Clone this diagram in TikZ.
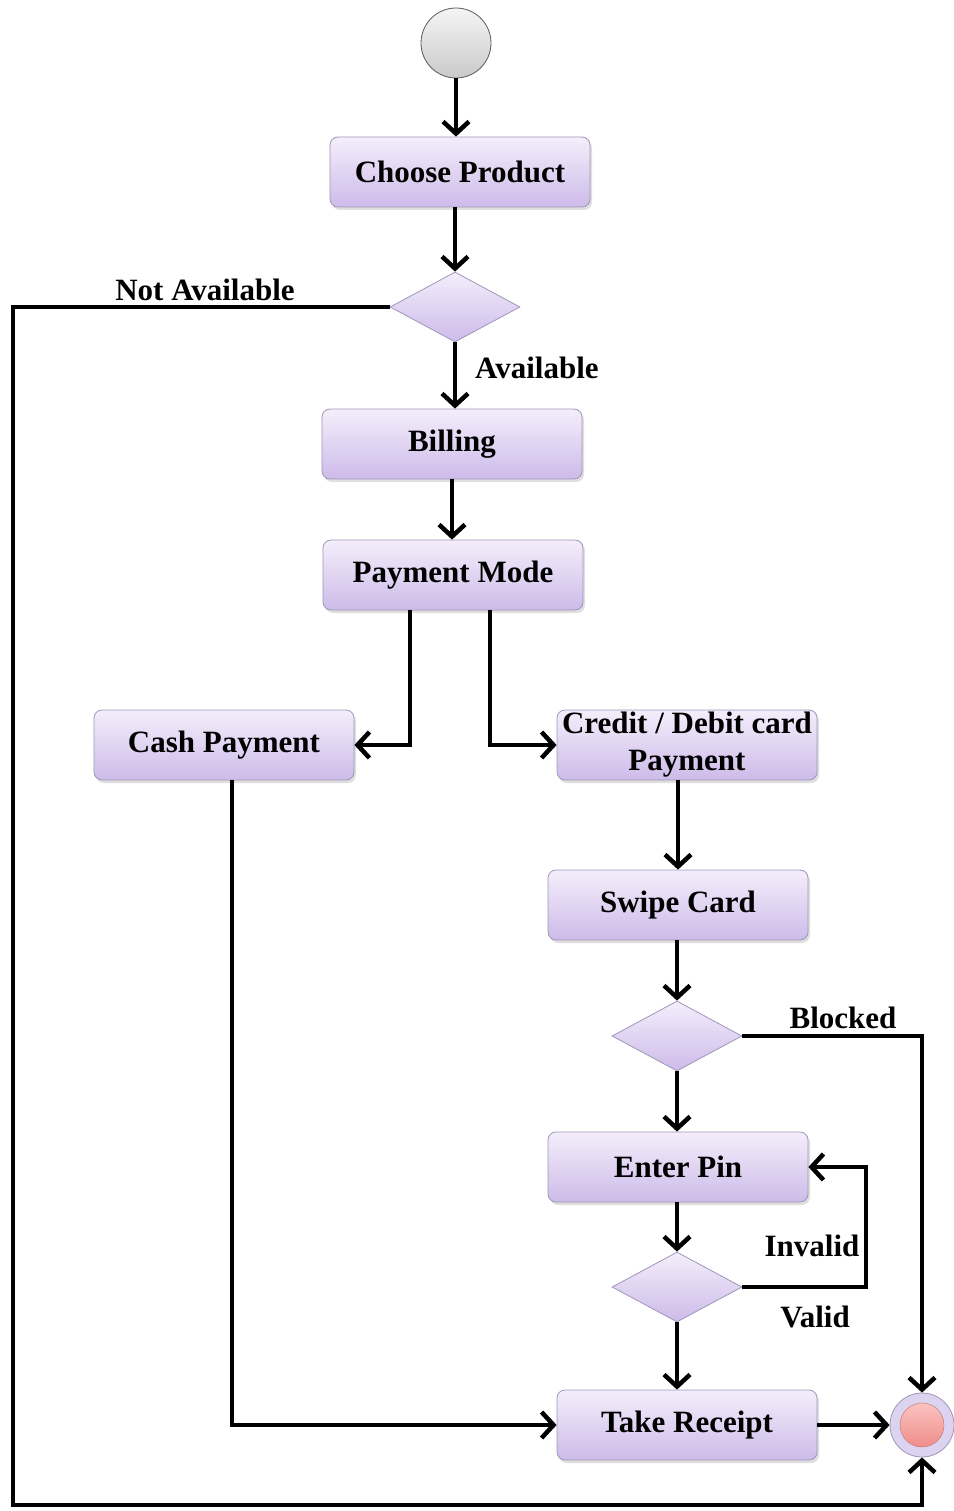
\documentclass[tikz,border=0pt]{standalone}
\usepackage{fontspec}
\setmainfont{Liberation Serif}
\usetikzlibrary{arrows.meta,shapes.geometric,shadows}
\definecolor{lavtop}{HTML}{F4EEFB}
\definecolor{lavbot}{HTML}{CDBBE9}
\definecolor{lavline}{HTML}{9E96B8}
\definecolor{finbg}{HTML}{DCD3F0}
\definecolor{fintop}{HTML}{FBC3C1}
\definecolor{finbot}{HTML}{EF8E8B}
\tikzset{actbox/.style={rectangle,rounded corners=8pt,draw=lavline,thick,top color=lavtop,bottom color=lavbot,
    minimum width=260pt,minimum height=70pt,inner sep=0pt,align=center,
    font=\bfseries\fontsize{31}{37}\selectfont,
    drop shadow={shadow xshift=2pt,shadow yshift=-3pt,opacity=.25}},
  decbox/.style={diamond,draw=lavline,thick,top color=lavtop,bottom color=lavbot,
    minimum width=130pt,minimum height=70pt,inner sep=0pt},
  flow/.style={line width=4.5pt,-{Straight Barb[length=12pt,width=26pt]}},
  lbl/.style={font=\bfseries\fontsize{31}{34}\selectfont,inner sep=0pt}}

\begin{document}
\begin{tikzpicture}[x=1pt,y=-1pt]
\useasboundingbox (0,0) rectangle (953,1511);
% nodes
\node[circle,minimum size=70pt,draw=gray!70!black,thick,top color=gray!8,bottom color=gray!42] (start) at (456,43) {};
\node[actbox] (choose) at (460,172) {Choose Product};
\node[decbox] (d1) at (455,307) {};
\node[actbox] (bill) at (452,444) {Billing};
\node[actbox] (pay) at (453,575) {Payment Mode};
\node[actbox] (cash) at (224,745) {Cash Payment};
\node[actbox] (card) at (687,745) {Credit / Debit card\\Payment};
\node[actbox] (swipe) at (678,905) {Swipe Card};
\node[decbox] (d2) at (677,1036) {};
\node[actbox] (pin) at (678,1167) {Enter Pin};
\node[decbox] (d3) at (677,1287) {};
\node[actbox] (rec) at (687,1425) {Take Receipt};
\node[circle,minimum size=64pt,draw=lavline,thick,fill=finbg] (fin) at (922,1425) {};
\node[circle,minimum size=44pt,draw=finbot!80!black,top color=fintop,bottom color=finbot] (fincore) at (fin.center) {};
% labels
\node[lbl] (lna) at (205,290) {Not Available};
\node[lbl,anchor=west] (lav) at (475,368) {Available};
\node[lbl] (lbk) at (843,1018) {Blocked};
\node[lbl] (liv) at (812,1246) {Invalid};
\node[lbl] (lvd) at (815,1317) {Valid};
% bend points
\coordinate (nabot) at (13,1505);
\coordinate (ivr) at (866,1287);
% flows
\draw[flow] (start) -- (start |- choose.north);
\draw[flow] (choose.south -| d1.north) -- (d1.north);
\draw[flow] (d1.south) -- (d1.south |- bill.north);
\draw[flow] (bill.south) -- (bill.south |- pay.north);
\draw[flow] ([xshift=-43pt]pay.south) |- (cash.east);
\draw[flow] ([xshift=37pt]pay.south) |- (card.west);
\draw[flow] (card.south -| swipe.north) -- (swipe.north);
\draw[flow] (swipe.south -| d2.north) -- (d2.north);
\draw[flow] (d2.south) -- (d2.south |- pin.north);
\draw[flow] (pin.south -| d3.north) -- (d3.north);
\draw[flow] (d3.east) -- (ivr) |- (pin.east);
\draw[flow] (d3.south) -- (d3.south |- rec.north);
\draw[flow] ([xshift=8pt]cash.south) |- (rec.west);
\draw[flow] (rec.east) -- (fin.west);
\draw[flow] (d2.east) -| (fin.north);
\draw[flow] (d1.west) -| (nabot) -| (fin.south);
\end{tikzpicture}
\end{document}
